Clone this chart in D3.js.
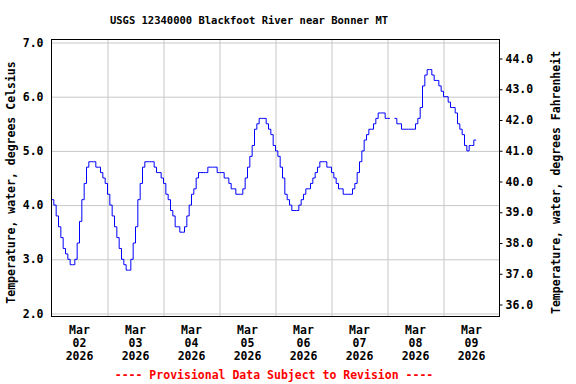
<!DOCTYPE html>
<html>
<head>
<meta charset="utf-8">
<script src="https://cdn.jsdelivr.net/npm/d3@7"></script>
<style>
  body { margin: 0; background: #fff; }
  text { font-family: "DejaVu Sans Mono", monospace; font-weight: bold; }
</style>
</head>
<body>
<div id="chart"></div>
<script>
var svgWidth = 576;
var svgHeight = 384;

// Hourly water temperature readings (deg C), one array per day.
var mar02 = [4.1, 4.0, 3.8, 3.6, 3.4, 3.2, 3.1, 3.0, 2.9, 2.9, 3.0, 3.3, 3.7, 4.1, 4.4, 4.7, 4.8, 4.8, 4.8, 4.7, 4.7, 4.6, 4.5, 4.4];
var mar03 = [4.2, 4.0, 3.8, 3.6, 3.4, 3.2, 3.0, 2.9, 2.8, 2.8, 3.0, 3.3, 3.6, 4.1, 4.4, 4.7, 4.8, 4.8, 4.8, 4.8, 4.7, 4.6, 4.6, 4.5];
var mar04 = [4.4, 4.2, 4.1, 3.9, 3.8, 3.6, 3.6, 3.5, 3.5, 3.6, 3.8, 4.0, 4.2, 4.3, 4.5, 4.6, 4.6, 4.6, 4.6, 4.7, 4.7, 4.7, 4.7, 4.6];
var mar05 = [4.6, 4.6, 4.5, 4.5, 4.4, 4.3, 4.3, 4.2, 4.2, 4.2, 4.3, 4.5, 4.7, 4.9, 5.1, 5.4, 5.5, 5.6, 5.6, 5.6, 5.5, 5.4, 5.3, 5.1];
var mar06 = [5.0, 4.9, 4.7, 4.5, 4.2, 4.1, 4.0, 3.9, 3.9, 3.9, 4.0, 4.1, 4.2, 4.3, 4.3, 4.4, 4.5, 4.6, 4.7, 4.8, 4.8, 4.8, 4.7, 4.7];
var mar07 = [4.6, 4.5, 4.4, 4.3, 4.3, 4.2, 4.2, 4.2, 4.2, 4.3, 4.4, 4.6, 4.8, 5.0, 5.2, 5.3, 5.4, 5.4, 5.5, 5.6, 5.7, 5.7, 5.7, 5.6];
var mar08 = [5.6, 5.6, null, 5.6, 5.5, 5.5, 5.4, 5.4, 5.4, 5.4, 5.4, 5.4, 5.5, 5.6, 5.8, 6.2, 6.4, 6.5, 6.5, 6.4, 6.3, 6.3, 6.2, 6.1];
var mar09 = [6.0, 6.0, 5.9, 5.8, 5.8, 5.7, 5.5, 5.4, 5.3, 5.1, 5.0, 5.1, 5.1, 5.2, 5.2];

var days = ["02", "03", "04", "05", "06", "07", "08", "09"];
var celsiusTicks = [2, 3, 4, 5, 6, 7];
var fahrenheitTicks = [36, 37, 38, 39, 40, 41, 42, 43, 44];

var startTime = Date.UTC(2026, 2, 2);
var hour = 3600 * 1000;

var readings = [];
[mar02, mar03, mar04, mar05, mar06, mar07, mar08, mar09].forEach(function(day, i) {
    day.forEach(function(v, h) {
        readings.push({ t: new Date(startTime + (i * 24 + h) * hour), v: v });
    });
});

var plot = { left: 51.5, right: 499.5, top: 39.5, bottom: 316.5 };

var svg = d3.select("#chart")
    .append("svg")
    .attr("width", svgWidth)
    .attr("height", svgHeight);

var xScale = d3.scaleUtc()
    .domain([new Date(startTime), new Date(startTime + 8 * 24 * hour)])
    .range([plot.left, plot.right]);

var yScale = d3.scaleLinear()
    .domain([2, 7])
    .range([313.5, 42.5]);

var yScaleF = d3.scaleLinear()
    .domain([36, 44])
    .range([304.5, 58.5]);

// Gridlines
var midnights = d3.range(1, 8).map(i => new Date(startTime + i * 24 * hour));

svg.append("g")
    .attr("transform", `translate(0, ${plot.bottom})`)
    .call(d3.axisBottom(xScale).tickValues(midnights).tickSize(-(plot.bottom - plot.top)).tickFormat(""))
    .call(g => g.select(".domain").remove())
    .call(g => g.selectAll("line").attr("stroke", "#c8c8c8"));

svg.append("g")
    .attr("transform", `translate(${plot.left}, 0)`)
    .call(d3.axisLeft(yScale).tickValues(celsiusTicks).tickSize(-(plot.right - plot.left)).tickFormat(""))
    .call(g => g.select(".domain").remove())
    .call(g => g.selectAll("line").attr("stroke", "#c8c8c8"));

// Data line
var line = d3.line()
    .defined(d => d.v != null)
    .x(d => xScale(d.t))
    .y(d => yScale(d.v))
    .curve(d3.curveStepAfter);

svg.append("path")
    .datum(readings)
    .attr("fill", "none")
    .attr("stroke", "#0000ff")
    .attr("stroke-width", 1)
    .attr("d", line);

// Frame
svg.append("rect")
    .attr("x", plot.left)
    .attr("y", plot.top)
    .attr("width", plot.right - plot.left)
    .attr("height", plot.bottom - plot.top)
    .attr("fill", "none")
    .attr("stroke", "#000");

// Left axis labels
svg.append("g")
    .attr("transform", `translate(${plot.left}, 0)`)
    .call(d3.axisLeft(yScale).tickValues(celsiusTicks).tickSize(0).tickPadding(8).tickFormat(d3.format(".1f")))
    .call(g => g.select(".domain").remove())
    .call(g => g.selectAll("text").attr("font-size", "11.5px").attr("font-family", null).attr("fill", "#000"));

// Right axis (Fahrenheit)
svg.append("g")
    .attr("transform", `translate(${plot.right}, 0)`)
    .call(d3.axisRight(yScaleF).tickValues(fahrenheitTicks).tickSize(3).tickPadding(3).tickFormat(d3.format(".1f")))
    .call(g => g.select(".domain").remove())
    .call(g => g.selectAll("line").attr("stroke", "#000"))
    .call(g => g.selectAll("text").attr("font-size", "11.5px").attr("font-family", null).attr("fill", "#000"));

// X axis labels centred on each day
var xLabels = svg.append("g");
days.forEach(function(d, i) {
    var cx = xScale(new Date(startTime + (i * 24 + 12) * hour));
    var t = xLabels.append("text")
        .attr("text-anchor", "middle")
        .attr("font-size", "11.5px")
        .attr("y", 333.5);
    t.append("tspan").attr("x", cx).text("Mar");
    t.append("tspan").attr("x", cx).attr("dy", 13.3).text(d);
    t.append("tspan").attr("x", cx).attr("dy", 13.3).text("2026");
});

// Titles
svg.append("text")
    .attr("x", 249)
    .attr("y", 24)
    .attr("text-anchor", "middle")
    .attr("font-size", "10.5px")
    .text("USGS 12340000 Blackfoot River near Bonner MT");

svg.append("text")
    .attr("transform", "translate(15, 182.5) rotate(-90)")
    .attr("text-anchor", "middle")
    .attr("font-size", "11.5px")
    .text("Temperature, water, degrees Celsius");

svg.append("text")
    .attr("transform", "translate(560, 182.5) rotate(-90)")
    .attr("text-anchor", "middle")
    .attr("font-size", "11.5px")
    .text("Temperature, water, degrees Fahrenheit");

svg.append("text")
    .attr("x", 274)
    .attr("y", 378.5)
    .attr("text-anchor", "middle")
    .attr("font-size", "11.5px")
    .attr("fill", "#ff0000")
    .text("---- Provisional Data Subject to Revision ----");
</script>
</body>
</html>
